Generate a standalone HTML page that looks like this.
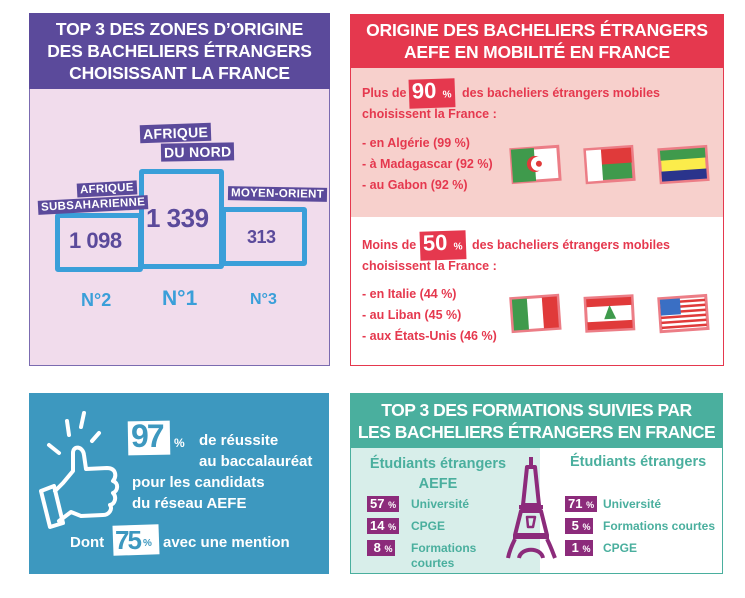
<!DOCTYPE html>
<html><head><meta charset="utf-8"><style>
*{margin:0;padding:0;box-sizing:border-box}
body{width:745px;height:598px;background:#fff;position:relative;overflow:hidden;font-family:"Liberation Sans",sans-serif;font-weight:bold}
.a{position:absolute;white-space:nowrap}
.t{color:#fff;font-size:17.5px;text-align:center;line-height:22px;letter-spacing:-0.2px}
.r{color:#e5384e;font-size:12.5px}
.lab{background:#5b4a9b;color:#fff;font-size:11.5px;padding:1px 3px;letter-spacing:0.3px}
.pb{position:absolute;border:5px solid #3a9fd9;border-radius:3px}
.num{color:#5b4a9b;font-weight:bold;letter-spacing:-0.5px}
.np{color:#3a9fd9;font-size:18px}
.bd{position:absolute;background:#8c2b7b;color:#fff;font-size:13px;height:16px;line-height:16px;padding:0 3px}
.bd small{font-size:9px}
.tl{color:#4aaf9e;font-size:12px}
.wt{color:#fff;font-size:15px}
.pct{position:absolute;background:#e5384e;color:#fff;font-size:22px;line-height:24px;padding:0 3px;transform:rotate(-2deg)}
.pct small{font-size:10px}
</style></head><body>
<!-- Panel 1 -->
<div class="a" style="left:29px;top:13px;width:301px;height:353px;background:#f1dcec;border:1.5px solid #7b6bb0"></div>
<div class="a" style="left:29px;top:13px;width:301px;height:76px;background:#5b4a9b"></div>
<div class="a t" style="left:29px;top:18px;width:301px">TOP 3 DES ZONES D’ORIGINE<br>DES BACHELIERS ÉTRANGERS<br>CHOISISSANT LA FRANCE</div>
<div class="pb" style="left:55px;top:213px;width:88px;height:59px"></div>
<div class="pb" style="left:139px;top:169px;width:85px;height:100px"></div>
<div class="pb" style="left:221px;top:207px;width:86px;height:59px"></div>
<div class="a lab" style="left:140px;top:124px;font-size:14px;transform:rotate(-2deg)">AFRIQUE</div>
<div class="a lab" style="left:161px;top:143px;font-size:14px;transform:rotate(-1deg)">DU NORD</div>
<div class="a lab" style="left:77px;top:182px;transform:rotate(-3deg)">AFRIQUE</div>
<div class="a lab" style="left:38px;top:198px;transform:rotate(-3deg)">SUBSAHARIENNE</div>
<div class="a lab" style="left:228px;top:187px;transform:rotate(1deg)">MOYEN-ORIENT</div>
<div class="a num" style="left:69px;top:228px;font-size:22px">1 098</div>
<div class="a num" style="left:146px;top:203px;font-size:26px">1 339</div>
<div class="a num" style="left:247px;top:227px;font-size:18px">313</div>
<div class="a np" style="left:81px;top:290px">N°2</div>
<div class="a np" style="left:162px;top:287px;font-size:21px">N°1</div>
<div class="a np" style="left:250px;top:291px;font-size:16px">N°3</div>

<!-- Panel 2 -->
<div class="a" style="left:350px;top:14px;width:374px;height:352px;background:#fff;border:1.5px solid #e5384e"></div>
<div class="a" style="left:351px;top:67px;width:372px;height:150px;background:#f7d0cc"></div>
<div class="a" style="left:350px;top:14px;width:374px;height:54px;background:#e5384e"></div>
<div class="a t" style="left:350px;top:19px;width:374px">ORIGINE DES BACHELIERS ÉTRANGERS<br>AEFE EN MOBILITÉ EN FRANCE</div>
<div class="a r" style="left:362px;top:86px">Plus de</div>
<div class="pct" style="left:409px;top:79px">90 <small>%</small></div>
<div class="a r" style="left:462px;top:86px">des bacheliers étrangers mobiles</div>
<div class="a r" style="left:362px;top:107px">choisissent la France :</div>
<div class="a r" style="left:362px;top:133px;line-height:21px">- en Algérie (99 %)<br>- à Madagascar (92 %)<br>- au Gabon (92 %)</div>
<div class="a r" style="left:362px;top:238px">Moins de</div>
<div class="pct" style="left:420px;top:231px">50 <small>%</small></div>
<div class="a r" style="left:472px;top:238px">des bacheliers étrangers mobiles</div>
<div class="a r" style="left:362px;top:259px">choisissent la France :</div>
<div class="a r" style="left:362px;top:284px;line-height:21px">- en Italie (44 %)<br>- au Liban (45 %)<br>- aux États-Unis (46 %)</div>
<svg class="a" style="left:500px;top:130px" width="220" height="210">
<g stroke="#ec7d86" stroke-width="3" transform="rotate(-4 35 35)">
<rect x="12" y="18" width="47" height="33" fill="#fff"/><rect x="12" y="18" width="23" height="33" fill="#3f9a4c" stroke="none"/>
<circle cx="35" cy="34" r="8" fill="#e03a3a" stroke="none"/><circle cx="38" cy="34" r="7" fill="#fff" stroke="none"/><circle cx="39" cy="34" r="3" fill="#e03a3a" stroke="none"/></g>
<g stroke="#ec7d86" stroke-width="3" transform="rotate(-4 110 35)">
<rect x="86" y="18" width="47" height="33" fill="#3f9a4c"/><rect x="101" y="19" width="31" height="15" fill="#e03a3a" stroke="none"/><rect x="87" y="19" width="15" height="31" fill="#fff" stroke="none"/></g>
<g stroke="#ec7d86" stroke-width="3" transform="rotate(-4 185 35)">
<rect x="160" y="18" width="47" height="33" fill="#fbec4b"/><rect x="161" y="19" width="45" height="10" fill="#3f9a4c" stroke="none"/><rect x="161" y="40" width="45" height="10" fill="#2a348c" stroke="none"/></g>
<g stroke="#ec7d86" stroke-width="3" transform="rotate(-4 35 185)">
<rect x="12" y="167" width="47" height="33" fill="#fff"/><rect x="13" y="168" width="15" height="31" fill="#3f9a4c" stroke="none"/><rect x="43" y="168" width="15" height="31" fill="#e03a3a" stroke="none"/></g>
<g stroke="#ec7d86" stroke-width="3" transform="rotate(-3 110 185)">
<rect x="86" y="167" width="47" height="33" fill="#fff"/><rect x="87" y="168" width="45" height="8" fill="#e03a3a" stroke="none"/><rect x="87" y="191" width="45" height="8" fill="#e03a3a" stroke="none"/><polygon points="110,175 104,189 116,189" fill="#3f9a4c" stroke="none"/></g>
<g stroke="#ec7d86" stroke-width="3" transform="rotate(-4 185 185)">
<rect x="160" y="167" width="47" height="33" fill="#fff"/>
<g stroke="none" fill="#e03a3a"><rect x="161" y="170" width="45" height="2.5"/><rect x="161" y="175" width="45" height="2.5"/><rect x="161" y="180" width="45" height="2.5"/><rect x="161" y="185" width="45" height="2.5"/><rect x="161" y="190" width="45" height="2.5"/><rect x="161" y="195" width="45" height="2.5"/></g>
<rect x="161" y="168" width="20" height="16" fill="#3a6fc4" stroke="none"/></g>
</svg>

<!-- Panel 3 -->
<div class="a" style="left:29px;top:393px;width:300px;height:181px;background:#3d98bf"></div>
<svg class="a" style="left:29px;top:393px" width="100" height="140" fill="none" stroke="#fff" stroke-width="4" stroke-linecap="round" stroke-linejoin="round">
<path d="M20 52 L30 60 M38 28 L40 42 M55 20 L52 34 M70 40 L63 48"/>
<path d="M26 98 L34 90 L44 78 L44 60 C44 52 54 53 55 62 L57 76 L78 75 C87 75 88 83 84 88 C90 90 89 98 84 100 C88 104 86 111 81 112 C84 116 80 122 74 122 L52 123 L42 119 L30 128"/>
<path d="M12 98 L25 93 L34 130 L21 134 Z"/>
</svg>
<div class="a" style="left:128px;top:421px;width:42px;height:34px;background:#fff;transform:rotate(-1deg)"></div>
<div class="a" style="left:131px;top:418px;font-size:32px;color:#3d98bf;letter-spacing:-2px">97</div>
<div class="a wt" style="left:174px;top:436px;font-size:12px">%</div>
<div class="a wt" style="left:199px;top:430px;line-height:21px">de réussite<br>au baccalauréat</div>
<div class="a wt" style="left:132px;top:472px;line-height:21px">pour les candidats<br>du réseau AEFE</div>
<div class="a wt" style="left:70px;top:534px">Dont</div>
<div class="a" style="left:113px;top:525px;width:46px;height:30px;background:#fff;transform:rotate(-2deg)"></div>
<div class="a" style="left:115px;top:525px;font-size:26px;color:#3d98bf;letter-spacing:-2px">75</div>
<div class="a" style="left:143px;top:538px;font-size:10px;color:#3d98bf">%</div>
<div class="a wt" style="left:163px;top:534px">avec une mention</div>

<!-- Panel 4 -->
<div class="a" style="left:350px;top:393px;width:373px;height:181px;background:#fff;border:1.5px solid #4aaf9e"></div>
<div class="a" style="left:351px;top:447px;width:189px;height:126px;background:#d8eeea"></div>
<div class="a" style="left:350px;top:393px;width:373px;height:55px;background:#4aaf9e"></div>
<div class="a t" style="left:350px;top:399px;width:373px;letter-spacing:-0.5px">TOP 3 DES FORMATIONS SUIVIES PAR<br>LES BACHELIERS ÉTRANGERS EN FRANCE</div>
<div class="a" style="left:358px;top:454px;width:160px;text-align:center;color:#4aaf9e;font-size:14.5px;line-height:20px">Étudiants étrangers<br>AEFE</div>
<div class="a" style="left:570px;top:454px;color:#4aaf9e;font-size:14.5px">Étudiants étrangers</div>
<div class="bd" style="left:367px;top:496px">57 <small>%</small></div>
<div class="bd" style="left:367px;top:518px">14 <small>%</small></div>
<div class="bd" style="left:367px;top:540px">&nbsp;8 <small>%</small></div>
<div class="a tl" style="left:411px;top:497px">Université</div>
<div class="a tl" style="left:411px;top:519px">CPGE</div>
<div class="a tl" style="left:411px;top:541px;line-height:15px">Formations<br>courtes</div>
<div class="bd" style="left:565px;top:496px">71 <small>%</small></div>
<div class="bd" style="left:565px;top:518px">&nbsp;5 <small>%</small></div>
<div class="bd" style="left:565px;top:540px">&nbsp;1 <small>%</small></div>
<div class="a tl" style="left:603px;top:497px">Université</div>
<div class="a tl" style="left:603px;top:519px">Formations courtes</div>
<div class="a tl" style="left:603px;top:541px">CPGE</div>
<svg class="a" style="left:505px;top:455px" width="55" height="110" fill="none" stroke="#8c2b7b" stroke-width="4" stroke-linejoin="round">
<path d="M26 2 L26 10 M22 12 L30 12 L34 50 L18 50 Z M14 52 L38 52 M16 56 L36 56 L42 80 L10 80 Z M8 82 L44 82"/>
<path d="M10 84 C6 92 4 98 3 103 M42 84 C46 92 48 98 50 103 M14 103 C16 92 36 92 38 103"/>
<path d="M22 62 L30 62 L28 72 L23 72 Z" stroke-width="2.5"/>
</svg>
</body></html>
